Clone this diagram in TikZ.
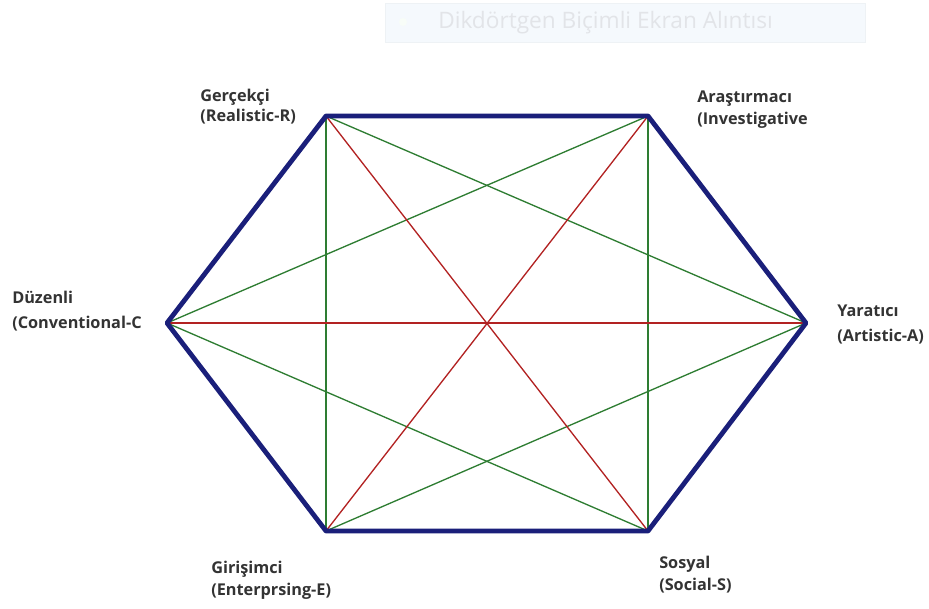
\documentclass[tikz,border=0pt]{standalone}
\usepackage{fontspec}
\setmainfont{Open Sans}
\definecolor{hexblue}{HTML}{1A1F7A}
\definecolor{lgreen}{HTML}{2E7D32}
\definecolor{lred}{HTML}{B22222}
\definecolor{labgray}{HTML}{333333}
\definecolor{wmfill}{HTML}{F5F9FD}
\definecolor{wmtext}{HTML}{E2E4E8}
\begin{document}
\begin{tikzpicture}[x=0.75pt,y=-0.75pt,
  side/.style={draw=hexblue,line width=3.6pt,line cap=round,line join=round},
  gline/.style={draw=lgreen,line width=1pt},
  rline/.style={draw=lred,line width=1pt},
  lab/.style={font=\bfseries\fontsize{12.2}{16.5}\selectfont,text=labgray,align=left,inner sep=0pt,anchor=north west}]
\useasboundingbox (0,0) rectangle (929,608);
% watermark
\node[draw=wmfill!97!black,fill=wmfill,minimum width=480*0.75pt,minimum height=39*0.75pt,anchor=north west,inner sep=0pt] (wm) at (385,3) {};
\node[circle,fill=wmtext!80!green!10,minimum size=6pt,inner sep=0pt] (wmicon) at (403,22) {};
\node[anchor=west,text=wmtext,font=\fontsize{17}{20}\selectfont,inner sep=0pt] (wmtxt) at (438,23) {Dikdörtgen Biçimli Ekran Alıntısı};
% vertices
\coordinate (R) at (326,116);
\coordinate (I) at (648,116);
\coordinate (A) at (806,323);
\coordinate (S) at (648,531);
\coordinate (E) at (326,531);
\coordinate (C) at (167,323);
% green lines
\draw[gline] (R) -- (E);
\draw[gline] (I) -- (S);
\draw[gline] (R) -- (A);
\draw[gline] (I) -- (C);
\draw[gline] (C) -- (S);
\draw[gline] (E) -- (A);
% red lines
\draw[rline] (R) -- (S);
\draw[rline] (I) -- (E);
\draw[rline] (C) -- (A);
% hexagon
\draw[side] (R) -- (I) -- (A) -- (S) -- (E) -- (C) -- cycle;
% labels
\node[lab] (lR) at (200,89) {Gerçekçi\\[-1.5pt](Realistic-R)};
\node[lab] (lI) at (697,91) {Araştırmacı\\(Investigative};
\node[lab] (lC) at (12,291) {Düzenli\\[2pt](Conventional-C};
\node[lab] (lA) at (837,305) {Yaratıcı\\[2pt](Artistic-A)};
\node[lab] (lE) at (211,561) {Girişimci\\(Enterprsing-E)};
\node[lab] (lS) at (659,556) {Sosyal\\(Social-S)};
\end{tikzpicture}
\end{document}
